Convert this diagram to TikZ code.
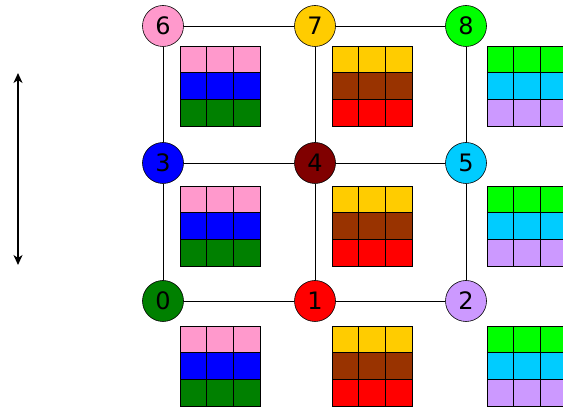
\documentclass[tikz,border=0pt]{standalone}
\usepackage{fontspec}
\setmainfont{DejaVu Sans}
\usepackage{tikz}
\usetikzlibrary{arrows.meta}

\definecolor{pinkc}{HTML}{FF99CC}
\definecolor{bluec}{HTML}{0000FF}
\definecolor{greenc}{HTML}{008000}
\definecolor{goldc}{HTML}{FFCC00}
\definecolor{brownc}{HTML}{993300}
\definecolor{redc}{HTML}{FF0000}
\definecolor{limec}{HTML}{00FF00}
\definecolor{cyanc}{HTML}{00CCFF}
\definecolor{lilacc}{HTML}{CC99FF}
\definecolor{darkredc}{HTML}{800000}

\tikzset{
  site/.style={circle,draw=black,line width=0.6pt,minimum size=41pt,inner sep=0pt,font=\fontsize{24}{24}\selectfont},
  bond/.style={line width=0.8pt},
  cellbox/.style={draw=black,line width=0.7pt}
}

\begin{document}
\begin{tikzpicture}[x=1pt,y=1pt,line width=0.5pt]
  \clip (0,0) rectangle (563,407);
  \foreach \gx/\ca/\cb/\cc in {180/pinkc/bluec/greenc,332/goldc/brownc/redc,487/limec/cyanc/lilacc}
    \foreach \gy in {281,141,1}
      \foreach \i in {0,1,2}
        \foreach \j/\col in {0/\cc,1/\cb,2/\ca}
          \filldraw[cellbox,fill=\col] (\gx+\i*80/3,\gy+\j*80/3) rectangle ++(80/3,80/3);
  \node[site,fill=pinkc] (n6) at (163,381) {6};
  \node[site,fill=goldc] (n7) at (315,381) {7};
  \node[site,fill=limec] (n8) at (466,381) {8};
  \node[site,fill=bluec] (n3) at (163,244) {3};
  \node[site,fill=darkredc] (n4) at (315,244) {4};
  \node[site,fill=cyanc] (n5) at (466,244) {5};
  \node[site,fill=greenc] (n0) at (163,106) {0};
  \node[site,fill=redc] (n1) at (315,106) {1};
  \node[site,fill=lilacc] (n2) at (466,106) {2};
  \draw[bond] (n6) -- (n7);
  \draw[bond] (n7) -- (n8);
  \draw[bond] (n3) -- (n4);
  \draw[bond] (n4) -- (n5);
  \draw[bond] (n0) -- (n1);
  \draw[bond] (n1) -- (n2);
  \draw[bond] (n6) -- (n3);
  \draw[bond] (n3) -- (n0);
  \draw[bond] (n7) -- (n4);
  \draw[bond] (n4) -- (n1);
  \draw[bond] (n8) -- (n5);
  \draw[bond] (n5) -- (n2);
  \coordinate (top) at (18,334);
  \coordinate (bot) at (18,142);
  \draw[line width=2pt,{Stealth[length=10pt,width=9pt,inset=3pt]}-{Stealth[length=10pt,width=9pt,inset=3pt]}] (top) -- (bot);
\end{tikzpicture}
\end{document}
